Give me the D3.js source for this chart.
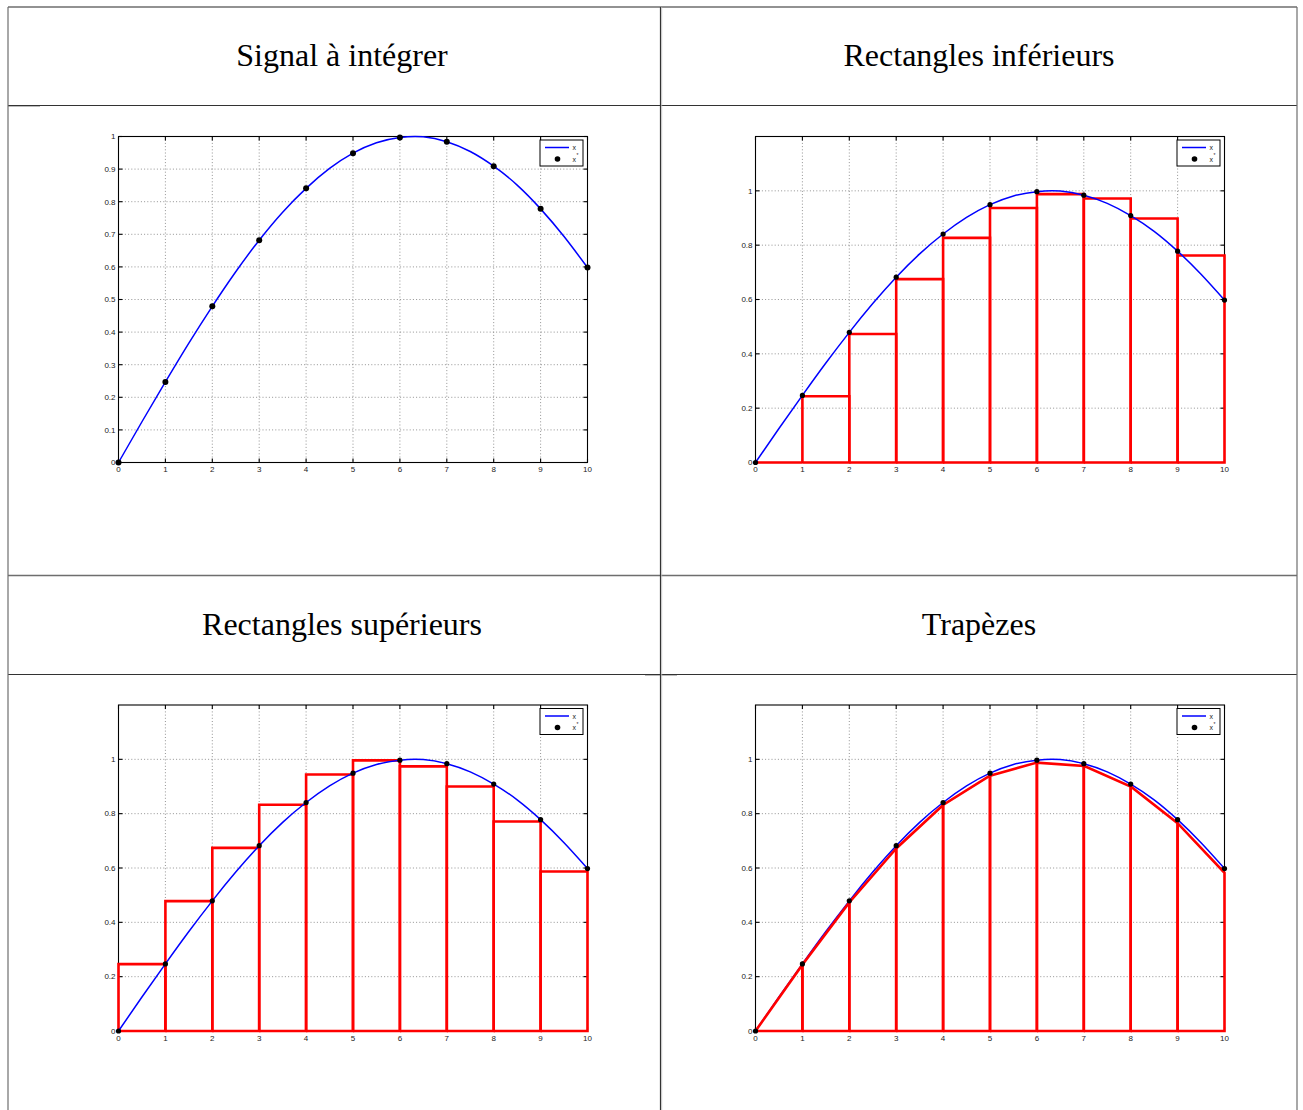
<!DOCTYPE html>
<html><head><meta charset="utf-8">
<script src="https://cdn.jsdelivr.net/npm/d3@7/dist/d3.min.js"></script>
<style>body{margin:0;background:#fff}svg{display:block}</style>
</head><body>
<script>
const titles = ["Signal à intégrer", "Rectangles inférieurs", "Rectangles supérieurs", "Trapèzes"];
const sampleT = [0, 1, 2, 3, 4, 5, 6, 7, 8, 9, 10];
const sampleX = [0, 0.247, 0.479, 0.682, 0.841, 0.949, 0.997, 0.984, 0.909, 0.778, 0.598];
const curveT = [0, 0.5, 1, 1.5, 2, 2.5, 3, 3.5, 4, 4.5, 5, 5.5, 6, 6.5, 7, 7.5, 8, 8.5, 9, 9.5, 10];
const curveX = [0, 0.125, 0.247, 0.366, 0.479, 0.585, 0.682, 0.768, 0.841, 0.902, 0.949, 0.981, 0.997, 0.999, 0.984, 0.954, 0.909, 0.851, 0.778, 0.693, 0.598];
const lowerHeights = [0, 0.244, 0.473, 0.675, 0.827, 0.937, 0.988, 0.972, 0.898, 0.762];
const upperHeights = [0.246, 0.478, 0.674, 0.833, 0.944, 0.996, 0.974, 0.900, 0.771, 0.587];
const trapezeTops = [0, 0.244, 0.473, 0.672, 0.832, 0.940, 0.988, 0.976, 0.900, 0.765, 0.582];
const xTicks = [0, 1, 2, 3, 4, 5, 6, 7, 8, 9, 10];
const yTicksSignal = [0, 0.1, 0.2, 0.3, 0.4, 0.5, 0.6, 0.7, 0.8, 0.9, 1];
const yTicksMethods = [0, 0.2, 0.4, 0.6, 0.8, 1];
const legendLabels = ["x", "x"];

const W = 1303, H = 1110;
const svg = d3.select("body").append("svg").attr("width", W).attr("height", H);

// table
const tL = 8, tR = 1297, tT = 7, colX = 660.5;
const rows = [7, 105.5, 575.5, 674.5];
const g0 = svg.append("g").attr("fill", "none");
g0.append("line").attr("x1", tL).attr("x2", tR).attr("y1", rows[0]).attr("y2", rows[0]).attr("stroke", "#6e6e6e").attr("stroke-width", 1.3);
g0.append("line").attr("x1", tL).attr("x2", tR).attr("y1", rows[1]).attr("y2", rows[1]).attr("stroke", "#333").attr("stroke-width", 1);
g0.append("line").attr("x1", tL).attr("x2", tR).attr("y1", rows[2]).attr("y2", rows[2]).attr("stroke", "#6e6e6e").attr("stroke-width", 1.6);
g0.append("line").attr("x1", tL).attr("x2", tR).attr("y1", rows[3]).attr("y2", rows[3]).attr("stroke", "#333").attr("stroke-width", 1);
[[tL, 40, rows[1] + 1], [645, 677, rows[3] + 1]].forEach(s =>
  g0.append("line").attr("x1", s[0]).attr("x2", s[1]).attr("y1", s[2]).attr("y2", s[2]).attr("stroke", "#bbb").attr("stroke-width", 1));
[[tL, "#6e6e6e"], [colX, "#333"], [tR, "#6e6e6e"]].forEach(v =>
  g0.append("line").attr("x1", v[0]).attr("x2", v[0]).attr("y1", tT).attr("y2", H).attr("stroke", v[1]).attr("stroke-width", 1.2));
g0.append("line").attr("x1", colX + 1.2).attr("x2", colX + 1.2).attr("y1", tT).attr("y2", H).attr("stroke", "#bbb").attr("stroke-width", 0.8);

// titles
const titlePos = [[342, 55], [979, 55], [342, 624], [979, 624]];
titles.forEach((t, i) => {
  svg.append("text").attr("x", titlePos[i][0]).attr("y", titlePos[i][1]).attr("text-anchor", "middle")
    .attr("dominant-baseline", "central")
    .attr("font-family", "Liberation Serif, Times New Roman, serif").attr("font-size", 32).attr("fill", "#000").text(t);
});

const panels = [
  {x0: 118.5, y0: 136.5, type: "signal", ymax: 1, yTicks: yTicksSignal},
  {x0: 755.5, y0: 136.5, type: "lower", ymax: 1.2, yTicks: yTicksMethods},
  {x0: 118.5, y0: 705, type: "upper", ymax: 1.2, yTicks: yTicksMethods},
  {x0: 755.5, y0: 705, type: "trap", ymax: 1.2, yTicks: yTicksMethods}
];
const PW = 469, PH = 326;
const fmt = v => (v === 0 ? "0" : v === 1 ? "1" : String(v));

panels.forEach(p => {
  const g = svg.append("g").attr("transform", `translate(${p.x0},${p.y0})`);
  const x = d3.scaleLinear().domain([0, 10]).range([0, PW]);
  const y = d3.scaleLinear().domain([0, p.ymax]).range([PH, 0]);

  // grid
  const grid = g.append("g").attr("stroke", "#777").attr("stroke-width", 0.8).attr("stroke-dasharray", "1,2.2");
  xTicks.slice(1, -1).forEach(t => grid.append("line").attr("x1", x(t)).attr("x2", x(t)).attr("y1", 0).attr("y2", PH));
  p.yTicks.filter(t => t > 0 && t < p.ymax).forEach(t => grid.append("line").attr("x1", 0).attr("x2", PW).attr("y1", y(t)).attr("y2", y(t)));

  // axes box and ticks
  const ax = g.append("g").attr("stroke", "#000").attr("stroke-width", 1.1);
  ax.append("rect").attr("x", 0).attr("y", 0).attr("width", PW).attr("height", PH).attr("fill", "none");
  const tl = 4;
  xTicks.forEach(t => {
    ax.append("line").attr("x1", x(t)).attr("x2", x(t)).attr("y1", PH).attr("y2", PH - tl);
    ax.append("line").attr("x1", x(t)).attr("x2", x(t)).attr("y1", 0).attr("y2", tl);
  });
  p.yTicks.forEach(t => {
    ax.append("line").attr("x1", 0).attr("x2", tl).attr("y1", y(t)).attr("y2", y(t));
    ax.append("line").attr("x1", PW).attr("x2", PW - tl).attr("y1", y(t)).attr("y2", y(t));
  });
  const lab = g.append("g").attr("font-family", "Liberation Sans, Arial, sans-serif").attr("font-size", 8).attr("fill", "#222");
  xTicks.forEach(t => lab.append("text").attr("x", x(t)).attr("y", PH + 9.5).attr("text-anchor", "middle").text(t));
  p.yTicks.forEach(t => lab.append("text").attr("x", -3).attr("y", y(t)).attr("dy", "0.35em").attr("text-anchor", "end").text(fmt(t)));

  const line = d3.line().x(d => x(d[0])).y(d => y(d[1]));
  const red = g.append("g").attr("fill", "none").attr("stroke", "#ff0000").attr("stroke-width", 2.6).attr("stroke-linejoin", "miter");

  if (p.type === "lower") {
    lowerHeights.forEach((h, k) => red.append("path").attr("d", line([[k, 0], [k, h], [k + 1, h], [k + 1, 0], [k, 0]])));
  }
  if (p.type === "upper") {
    upperHeights.forEach((h, k) => red.append("path").attr("d", line([[k, 0], [k, h], [k + 1, h], [k + 1, 0], [k, 0]])));
  }

  // curve
  g.append("path").datum(curveT.map((t, i) => [t, curveX[i]]))
    .attr("d", d3.line().x(d => x(d[0])).y(d => y(d[1])).curve(d3.curveNatural))
    .attr("fill", "none").attr("stroke", "#0000ff").attr("stroke-width", 1.5);

  if (p.type === "trap") {
    for (let k = 0; k < 10; k++) {
      red.append("path").attr("d", line([[k, 0], [k, trapezeTops[k]], [k + 1, trapezeTops[k + 1]], [k + 1, 0], [k, 0]]));
    }
    red.raise();
  }

  // points
  g.append("g").selectAll("circle").data(sampleT).join("circle")
    .attr("cx", (d) => x(d)).attr("cy", (d, i) => y(sampleX[i])).attr("r", p.type === "signal" ? 3 : 2.6).attr("fill", "#000");

  // legend
  const lg = g.append("g").attr("transform", `translate(${PW - 47.5},${3.5})`);
  lg.append("rect").attr("width", 43).attr("height", 26).attr("fill", "#fff").attr("stroke", "#000").attr("stroke-width", 1);
  lg.append("line").attr("x1", 5).attr("x2", 29).attr("y1", 7.5).attr("y2", 7.5).attr("stroke", "#0000ff").attr("stroke-width", 1.5);
  lg.append("circle").attr("cx", 17.5).attr("cy", 19).attr("r", 2.8).attr("fill", "#000");
  const lt = lg.append("g").attr("font-family", "Liberation Sans, Arial, sans-serif").attr("font-size", 7).attr("fill", "#222");
  lt.append("text").attr("x", 32.5).attr("y", 10).text(legendLabels[0]);
  lt.append("text").attr("x", 32.5).attr("y", 21.5).text(legendLabels[1]);
  lt.append("text").attr("x", 36.5).attr("y", 17).attr("font-size", 5).text("*");
});
</script>
</body></html>
